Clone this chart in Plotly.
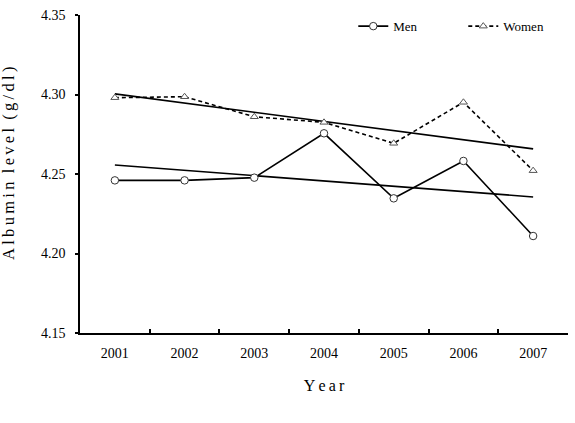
import numpy as np
import plotly.graph_objects as go

years = ["2001", "2002", "2003", "2004", "2005", "2006", "2007"]
men = [4.246, 4.246, 4.2477, 4.2756, 4.2347, 4.2582, 4.211]
women = [4.298, 4.2986, 4.286, 4.2825, 4.2693, 4.2951, 4.2521]
y_ticks = [4.15, 4.20, 4.25, 4.30, 4.35]
y_tick_labels = ["4.15", "4.20", "4.25", "4.30", "4.35"]

xi = np.arange(len(years))
men_fit = np.polyval(np.polyfit(xi, men, 1), xi)
women_fit = np.polyval(np.polyfit(xi, women, 1), xi)

FONT = "Liberation Serif, Times New Roman, serif"

fig = go.Figure()
fig.add_trace(go.Scatter(x=years, y=list(men_fit), mode="lines",
                         line=dict(color="black", width=1.6), showlegend=False, hoverinfo="skip"))
fig.add_trace(go.Scatter(x=years, y=list(women_fit), mode="lines",
                         line=dict(color="black", width=1.6), showlegend=False, hoverinfo="skip"))
fig.add_trace(go.Scatter(x=years, y=men, mode="lines+markers", name="Men",
                         line=dict(color="black", width=1.6),
                         marker=dict(symbol="circle", size=7.5, color="white",
                                     line=dict(color="#333333", width=1))))
fig.add_trace(go.Scatter(x=years, y=women, mode="lines+markers", name="Women",
                         line=dict(color="black", width=1.6, dash="4px,3px"),
                         marker=dict(symbol="triangle-up", size=7, color="white",
                                     line=dict(color="#555555", width=1))))

sp = "\u2009"
ytitle = sp.join(list("Albumin")) + "\u2002" + sp.join(list("level")) + "\u2002" + sp.join(list("(g/dl)"))
xtitle = "\u2009".join(list("Year"))

fig.add_annotation(text=ytitle, textangle=-90, xref="paper", yref="paper",
                   x=(8 - 80) / 488, y=1 - (164 - 15) / 318, xanchor="center", yanchor="middle",
                   showarrow=False, font=dict(family=FONT, size=16.5, color="black"))

fig.update_layout(
    width=575, height=423,
    margin=dict(l=80, r=7, t=15, b=90, autoexpand=False),
    paper_bgcolor="white", plot_bgcolor="white",
    font=dict(family=FONT, color="black", size=14),
    showlegend=True,
    legend=dict(orientation="h", x=0.56, y=1.012, xanchor="left", yanchor="top",
                font=dict(family=FONT, size=13), bgcolor="rgba(0,0,0,0)",
                entrywidth=65, entrywidthmode="pixels", itemwidth=30),
    xaxis=dict(type="category", range=[-0.5, 6.5], showline=True, linecolor="black", linewidth=1.5,
               ticks="inside", ticklen=4, tickcolor="black", tickwidth=1.5, tickson="boundaries",
               ticklabelstandoff=6,
               showgrid=False, zeroline=False, tickfont=dict(family=FONT, size=14),
               title=dict(text=xtitle, font=dict(family=FONT, size=16), standoff=20)),
    yaxis=dict(range=[4.15, 4.35], tickvals=y_ticks, ticktext=y_tick_labels,
               showline=True, linecolor="black", linewidth=1.5,
               ticks="outside", ticklen=3, tickcolor="black", tickwidth=1.5,
               ticklabelstandoff=7,
               showgrid=False, zeroline=False, tickfont=dict(family=FONT, size=14)),
)

fig.write_html("out.html")
